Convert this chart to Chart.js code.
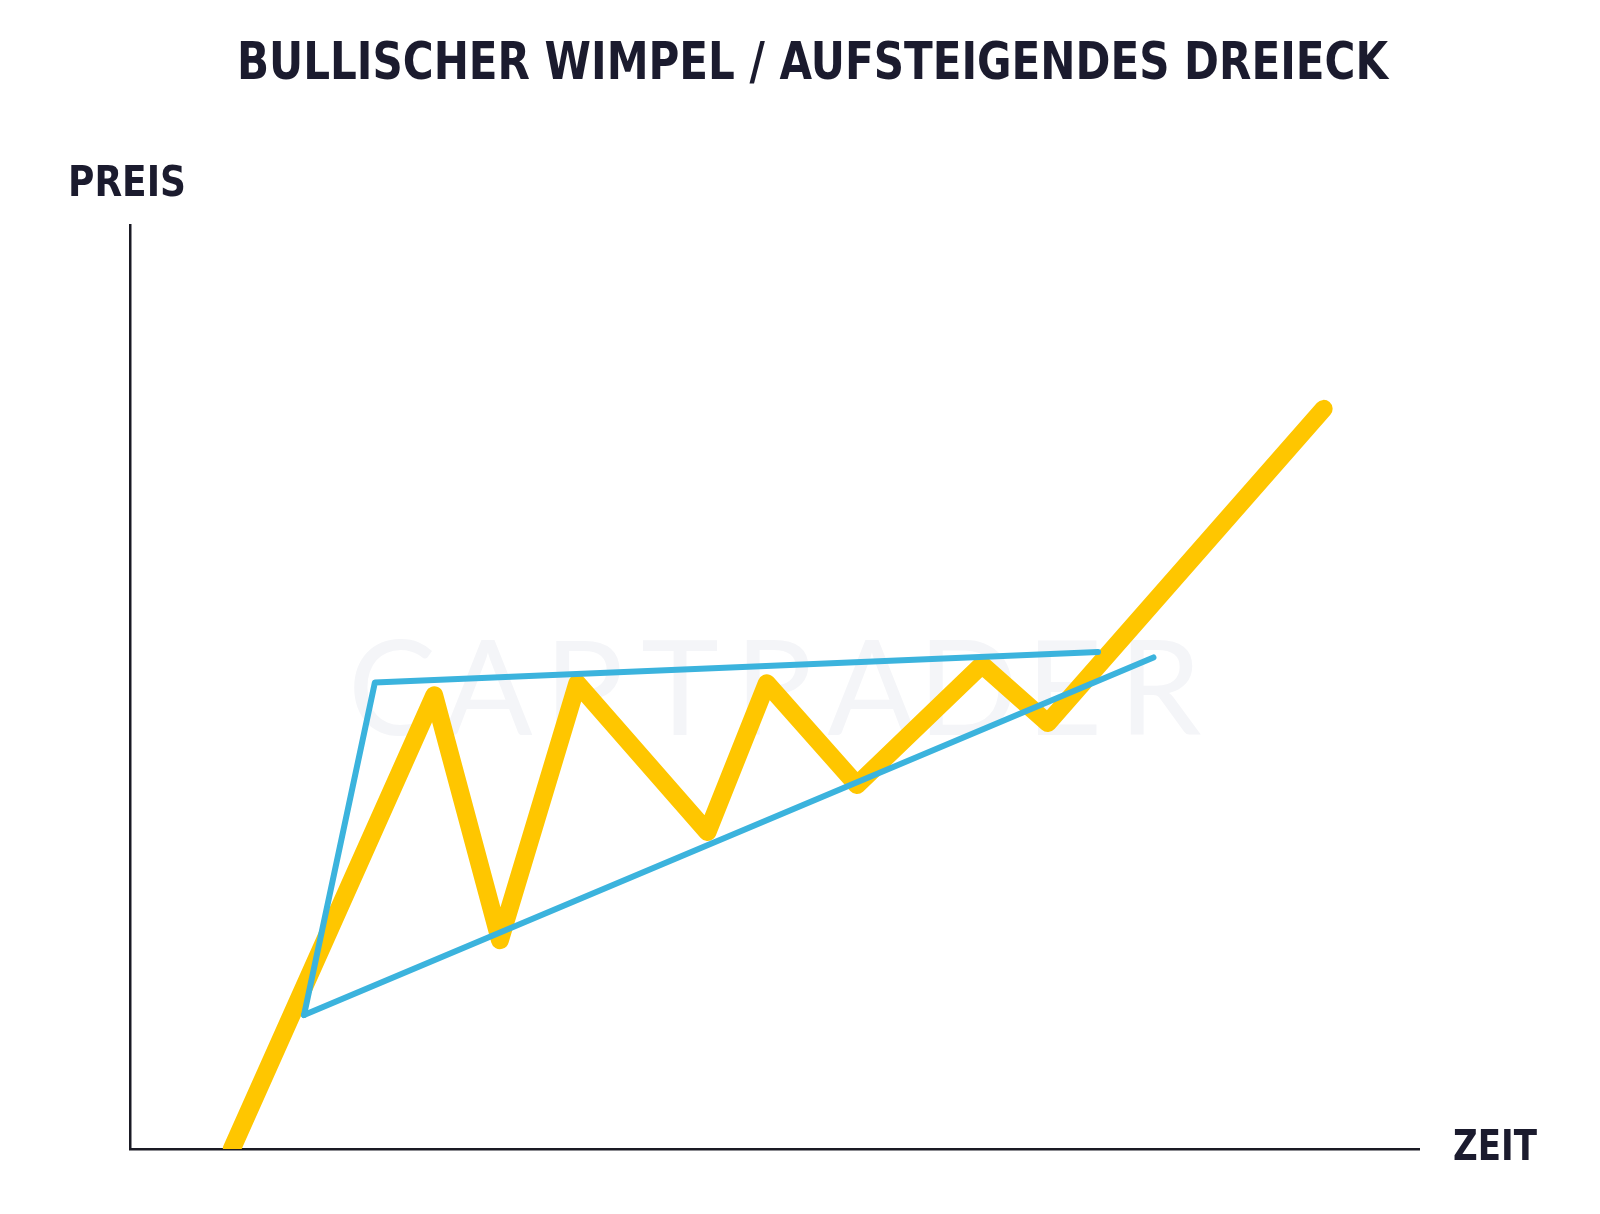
<!DOCTYPE html>
<html lang="de">
<head>
<meta charset="utf-8">
<title>Bullischer Wimpel / Aufsteigendes Dreieck</title>
<script src="https://cdn.jsdelivr.net/npm/chart.js@4.4.1/dist/chart.umd.min.js"></script>
<style>
  html, body { margin: 0; padding: 0; background: #ffffff; }
  #wrap { width: 1600px; height: 1214px; position: relative; }
</style>
</head>
<body>
<div id="wrap"><canvas id="patternChart" width="1600" height="1214"></canvas></div>
<script>
// Kursverlauf (gelb): Zeit 0..100, Preis 0..100
const kursZeit  = [7.9, 23.6, 28.7, 34.7, 44.8, 49.4, 56.4, 66.1, 71.2, 92.6];
const kursPreis = [0.0, 49.1, 22.6, 50.4, 34.3, 50.4, 39.4, 52.4, 46.1, 80.1];

// Widerstand (blau, oben, mit Anfangskante)
const obenZeit  = [13.5, 19.0, 75.1];
const obenPreis = [14.5, 50.5, 53.8];

// Unterstuetzung (blau, unten)
const untenZeit  = [13.5, 79.4];
const untenPreis = [14.5, 53.2];

const titel = "BULLISCHER WIMPEL / AUFSTEIGENDES DREIECK";
const yLabel = "PREIS";
const xLabel = "ZEIT";
const wasserzeichen = "CAPTRADER";

const textColor = "#1b1b2e";
const gelb = "#ffc600";
const blau = "#3bb3dd";

function toPoints(xs, ys) {
  return xs.map((x, i) => ({ x: x, y: ys[i] }));
}

// draws text between left and right, squeezed horizontally to fit
function fitText(ctx, text, left, right, centerY, size, font) {
  ctx.save();
  ctx.font = font.replace("SIZE", size + "px");
  ctx.textBaseline = "middle";
  ctx.textAlign = "left";
  const w = ctx.measureText(text).width;
  const sx = (right - left) / w;
  ctx.translate(left, centerY);
  ctx.scale(sx, 1);
  ctx.fillText(text, 0, 0);
  ctx.restore();
}

const textPlugin = {
  id: "texte",
  beforeDatasetsDraw(chart) {
    const ctx = chart.ctx;
    // Wasserzeichen
    ctx.save();
    ctx.fillStyle = "#f4f5f8";
    ctx.font = "400 132px Lato";
    ctx.textBaseline = "middle";
    ctx.textAlign = "center";
    const n = wasserzeichen.length;
    const l = 392, r = 1160;
    for (let i = 0; i < n; i++) {
      ctx.fillText(wasserzeichen[i], l + (r - l) * i / (n - 1), 692);
    }
    ctx.restore();
  },
  afterDraw(chart) {
    const ctx = chart.ctx;
    ctx.fillStyle = textColor;
    fitText(ctx, titel, 237, 1388, 66, 51, "bold SIZE 'DejaVu Sans'");
    fitText(ctx, yLabel, 68, 186, 185, 43, "bold SIZE 'DejaVu Sans'");
    fitText(ctx, xLabel, 1453, 1537, 1149, 43, "bold SIZE 'DejaVu Sans'");
  }
};

const ctx = document.getElementById("patternChart").getContext("2d");

new Chart(ctx, {
  type: "scatter",
  data: {
    datasets: [
      {
        label: "Widerstand",
        data: toPoints(obenZeit, obenPreis),
        showLine: true,
        borderColor: blau,
        borderWidth: 6,
        borderCapStyle: "round",
        borderJoinStyle: "round",
        pointRadius: 0,
        order: 1
      },
      {
        label: "Unterstuetzung",
        data: toPoints(untenZeit, untenPreis),
        showLine: true,
        borderColor: blau,
        borderWidth: 6,
        borderCapStyle: "round",
        pointRadius: 0,
        order: 0
      },
      {
        label: "Kurs",
        data: toPoints(kursZeit, kursPreis),
        showLine: true,
        borderColor: gelb,
        borderWidth: 18,
        borderCapStyle: "round",
        borderJoinStyle: "round",
        pointRadius: 0,
        clip: 0,
        order: 2
      }
    ]
  },
  options: {
    responsive: false,
    animation: false,
    events: [],
    layout: {
      padding: { left: 130, right: 181, top: 225, bottom: 65 }
    },
    plugins: {
      legend: { display: false },
      title: { display: false },
      tooltip: { enabled: false }
    },
    scales: {
      x: {
        type: "linear",
        min: 0,
        max: 100,
        grid: { display: false, drawTicks: false },
        ticks: { display: false },
        border: { display: true, color: "#1a1a24", width: 2.5 }
      },
      y: {
        type: "linear",
        min: 0,
        max: 100,
        grid: { display: false, drawTicks: false },
        ticks: { display: false },
        border: { display: true, color: "#1a1a24", width: 2.5 }
      }
    }
  },
  plugins: [textPlugin]
});
</script>
</body>
</html>
